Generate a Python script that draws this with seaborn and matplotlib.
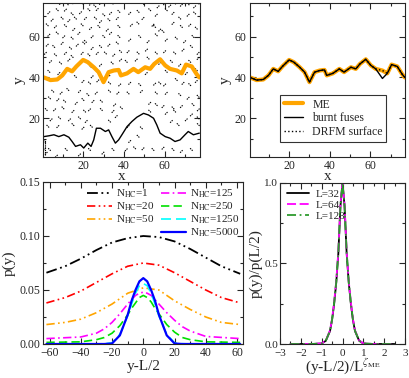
import numpy as np
import pandas as pd
import matplotlib
matplotlib.use('Agg')
import matplotlib.pyplot as plt
from matplotlib.ticker import MultipleLocator
from matplotlib.lines import Line2D
import seaborn as sns

# --- top panels: crack paths on the lattice ---
me_x = [0.8, 4, 7.3, 9.8, 12.2, 14.6, 16.7, 20, 22.3, 25.2, 27.6, 30, 32.5, 35, 37.4, 38.5,
        41.5, 44.7, 47, 50.4, 52.8, 54.8, 57.7, 60.2, 62.6, 65.9, 68.3, 70.4, 73.2, 75.6, 76.9]
me_y = [40, 38.7, 39, 41, 44.2, 43, 45.4, 48.6, 47.5, 45, 42.6, 37.7, 42.6, 43.4, 43.7, 41,
        42, 44.2, 42.6, 45, 44.2, 46.6, 48.9, 45.9, 44.2, 43.4, 42, 46.3, 45.4, 41.6, 40]
fuse_y = [40, 38.7, 39, 41, 44.2, 43, 45.4, 48.6, 47.5, 45, 42.6, 37.7, 42.6, 43.4, 43.7, 41,
          42, 44.2, 42.6, 45, 44.2, 46.6, 48.9, 45.9, 44.2, 39.5, 42, 46.3, 45.4, 41.6, 40]

crack_x = [0.8, 3.3, 5.7, 8.1, 10.6, 13, 14.6, 16.3, 18.7, 20.3, 22.3, 23.9, 25.2, 26.5, 28.5,
           30.9, 32.5, 34.1, 35.8, 37.4, 39, 41.5, 43.9, 46.3, 49.6, 52, 54.5, 56.1, 57.7,
           60.2, 62.6, 65, 67.5, 69.9, 71.5, 74, 76.9]
crack_y = [11, 11.4, 11.9, 11, 11.9, 10.7, 8.6, 6.2, 7, 5.4, 7.8, 6.2, 9.4, 15.1, 15.1,
           13.5, 14.3, 11, 7.8, 9.4, 11.9, 15.9, 18.4, 20.5, 22.4, 21.6, 20, 16.7, 12.7,
           11, 10.2, 8.6, 9.4, 11.9, 13.5, 11.9, 12.7]

# broken fuses (DRFM surface)
drfm_x = [9, 12.3, 15.5, 19.6, 23.7, 25.8, 28.6, 34.3, 3.3, 7.4, 11.4, 14.7, 18.8, 22.9, 27,
          30.2, 33.5, 37.6, 4.9, 9.8, 13.1, 16.3, 21.2, 26.1, 28.6, 32.7, 36.8, 2.5, 6.5,
          11.4, 15.5, 19.6, 23.7, 27.8, 31.9, 37.6, 3.3, 7.4, 10.6, 14.7, 18, 21.2, 24.5,
          30.2, 33.5, 37.6, 2.5, 5.7, 9.8, 13.9, 17.2, 20.4, 24.5, 28.6, 32.7, 36.8, 1.6,
          6.5, 11.4, 14.7, 19.6, 22.9, 27, 31, 35.1, 38.4, 4.1, 9, 13.1, 23.7, 28.6, 34.3,
          38.4, 3.3, 8.2, 16.3, 24.5, 32.7,
          50.2, 53.5, 56.8, 59.2, 62.5, 64.9, 68.2, 71.5, 74.7, 76.4, 42.9, 47, 49.4, 52.7,
          55.9, 60.8, 64.1, 67.4, 71.5, 74.7, 43.7, 46.9, 54.3, 55.1, 57.6, 59.2, 64.1, 68.2,
          72.3, 75.5, 42.9, 47.8, 51.9, 55.9, 60.8, 65.7, 69.8, 73.9, 42.1, 47, 51.1, 55.9,
          60, 64.9, 69, 73.1, 76.4, 41.2, 46.1, 51.9, 57.6, 63.3, 67.4, 72.3, 76.4, 44.5, 51,
          60.8, 70.6, 75.5,
          20, 23.2, 27.3, 33, 38, 5.2, 9.3, 12.6, 18.3, 22.4, 26.5, 33, 37.1, 3.6, 7.7, 11,
          16.7, 20, 24.9, 29, 35.5, 2, 6.1, 10.2, 15.1, 20.8, 23.2, 29, 34.7, 38.8, 4.4, 8.5,
          13.4, 18.3, 21.6, 33, 36.3, 2.8, 7.7, 15.1, 20, 24.1, 2, 3.6, 7, 11.8, 18.3, 23.2,
          29.8, 34.7, 1.2, 1.2,
          42.9, 47.8, 55.1, 57.6, 60, 65.7, 69, 72.3, 75.5, 42.1, 48.6, 55.9, 60.8, 67.4,
          71.5, 76.4, 52.7, 55.9, 59.2, 64.1, 68.2, 73.9, 76.5, 52.7, 60.8, 64.9, 73.1, 76.4,
          42.1, 48.6, 63.3, 66.6, 70.6, 76.5, 42.9, 47, 41.2, 45.3, 49.4, 54.3, 59.2, 64.1,
          68.2, 73.1]
drfm_y = [76.4, 76, 76.7, 76.4, 76, 75, 76.4, 76.4, 71.8, 73.1, 73.1, 71.1, 71.8, 73.1, 73.4,
          70.6, 71.5, 72.3, 68.2, 69, 67.9, 69, 69, 69, 67.4, 68.2, 69, 65.7, 64.9, 65.3,
          63.6, 65.7, 64.1, 64.9, 63.3, 64.9, 60.8, 61.7, 60, 59.2, 61.7, 57.6, 60, 60, 61.7,
          60, 55.9, 55.1, 56.8, 54.3, 55.9, 56.8, 54.3, 55.1, 55.9, 56.8, 51.9, 51, 51.9,
          50.2, 51.9, 51, 51.9, 51.9, 51, 52.7, 47.8, 47, 48.6, 45.3, 46.1, 47, 48.6, 42.9,
          42, 40.4, 40.4, 41.2,
          76.4, 76.7, 74.7, 76, 75.1, 76.4, 75.5, 76, 74.7, 76.4, 71.5, 72.3, 69, 73.1, 70.6,
          73.1, 71.5, 69, 70.6, 71.5, 65.7, 66.6, 65.7, 64.9, 63.3, 62.5, 66.6, 64.9, 65.7,
          64.1, 58.4, 60, 57.6, 60.8, 58.4, 59.2, 57.6, 60, 52.7, 51.9, 53.5, 51.9, 52.7,
          51.9, 53.5, 55.1, 51.9, 47.8, 48.6, 49.4, 47, 47.8, 46.1, 47.8, 49.4, 43.7, 42,
          42.9, 42, 43.7,
          38.1, 37.2, 38.4, 37.2, 36.4, 33.2, 32.4, 34, 33.2, 31.5, 32.4, 33.2, 32.4, 29.9,
          29.1, 28.3, 27.4, 29.1, 28.3, 28.3, 26.6, 24.2, 24.2, 25, 23.4, 23.4, 24.2, 24.2,
          23.4, 25, 19.3, 20.1, 19.3, 20.1, 18.5, 18.5, 20.9, 16, 16, 16.8, 15.2, 16, 2.9,
          4.6, 1.5, 4.6, 2.1, 4.6, 3, 4.6, 5, 8.5,
          37.2, 36.4, 36.8, 37.2, 36.4, 38.9, 37.2, 36.4, 38.1, 32.3, 33.2, 32.3, 32.3, 31.5,
          29.9, 30.7, 27.4, 26.6, 25.8, 25, 25.8, 26.6, 24.2, 23.4, 22.5, 23.4, 21.7, 20.1,
          16, 15.2, 18.5, 16.8, 19.3, 16.8, 8.7, 11.1, 4.6, 5.4, 5.1, 4.6, 5.4, 4.6, 3.8, 4.6]

# --- bottom left: p(y) for several N_HC ---
wide_x = [-62, -50, -40, -30, -20, -10, 0, 10, 20, 30, 40, 50, 62]
p_n1 = [0.066, 0.072, 0.079, 0.087, 0.094, 0.098, 0.100, 0.099, 0.095, 0.088, 0.080, 0.072, 0.065]
p_n20 = [0.038, 0.043, 0.049, 0.057, 0.065, 0.072, 0.075, 0.073, 0.066, 0.058, 0.050, 0.043, 0.038]
p_n50 = [0.018, 0.020, 0.023, 0.029, 0.037, 0.047, 0.052, 0.050, 0.040, 0.032, 0.025, 0.020, 0.018]

narrow_x = [-62, -40, -30, -25, -20, -15, -10, -7.5, -5, -2.5, 0, 2.5, 5, 7.5, 10, 15, 20, 25, 30, 40, 62]
p_n125 = [0.005, 0.0065, 0.010, 0.014, 0.020, 0.028, 0.037, 0.041, 0.045, 0.047, 0.048, 0.047,
          0.045, 0.041, 0.037, 0.029, 0.022, 0.016, 0.012, 0.007, 0.005]
p_n250 = [0.0015, 0.002, 0.004, 0.006, 0.010, 0.017, 0.027, 0.033, 0.038, 0.043, 0.045, 0.043,
          0.039, 0.033, 0.028, 0.018, 0.011, 0.006, 0.004, 0.002, 0.0015]
p_n1250 = [0, 0, 0, 0.0003, 0.001, 0.009, 0.026, 0.037, 0.047, 0.054, 0.056, 0.054, 0.047,
           0.037, 0.026, 0.009, 0.001, 0.0003, 0, 0, 0]
p_n5000 = [0, 0, 0, 0, 0.0005, 0.008, 0.027, 0.040, 0.050, 0.058, 0.061, 0.058, 0.050, 0.040,
           0.027, 0.008, 0.0005, 0, 0, 0, 0]

# --- bottom right: scaled profiles ---
s_x = [-2.5, -1.5, -1.0, -0.8, -0.6, -0.5, -0.4, -0.3, -0.2, -0.1, 0, 0.1, 0.2, 0.3, 0.4,
       0.5, 0.6, 0.8, 1.0, 1.5, 2.5]
s_l32 = [0, 0, 0.003, 0.02, 0.08, 0.15, 0.25, 0.38, 0.56, 0.85, 1.0, 0.85, 0.56, 0.38, 0.25,
         0.15, 0.08, 0.02, 0.003, 0, 0]
s_l64 = [0, 0, 0.004, 0.022, 0.085, 0.155, 0.26, 0.39, 0.57, 0.86, 1.0, 0.86, 0.57, 0.39, 0.26,
         0.155, 0.085, 0.022, 0.004, 0, 0]
s_l128 = [0, 0, 0.003, 0.021, 0.082, 0.152, 0.255, 0.385, 0.565, 0.855, 1.0, 0.855, 0.565,
          0.385, 0.255, 0.152, 0.082, 0.021, 0.003, 0, 0]

sns.set_style('ticks')
plt.rcParams['font.family'] = ['Liberation Serif', 'DejaVu Serif']
plt.rcParams['mathtext.fontset'] = 'stix'

W, H = 409, 378
fig = plt.figure(figsize=(W / 100, H / 100), dpi=100)


def box(l, t, r, b):
    return [l / W, 1 - b / H, (r - l) / W, (b - t) / H]


ax1 = fig.add_axes(box(43.3, 3, 199.5, 157))
ax2 = fig.add_axes(box(249.5, 3, 405, 157))
ax3 = fig.add_axes(box(43.3, 182, 243.3, 344))
ax4 = fig.add_axes(box(280, 182.5, 405, 344))

# dashes for broken fuses
seg_x, seg_y = [], []
for i, (x, y) in enumerate(zip(drfm_x, drfm_y)):
    d = 0.7 if i % 2 == 0 else -0.7
    seg_x += [x - 0.7, x + 0.7, np.nan]
    seg_y += [y - d, y + d, np.nan]
ax1.plot(seg_x, seg_y, color='black', lw=0.8, ls=(0, (1.2, 0.8)))
ax1.plot([1.2, 1.2], [2, 10], color='black', lw=0.8, ls=(0, (1.2, 0.8)))

sns.lineplot(x=me_x, y=me_y, ax=ax1, color='#FFA500', lw=3.0, sort=False)
sns.lineplot(x=crack_x, y=crack_y, ax=ax1, color='black', lw=1.0, sort=False)

sns.lineplot(x=me_x, y=me_y, ax=ax2, color='#FFA500', lw=3.0, sort=False, label='ME')
sns.lineplot(x=me_x, y=fuse_y, ax=ax2, color='black', lw=1.0, sort=False, label='burnt fuses')
sns.lineplot(x=me_x, y=me_y, ax=ax2, color='black', lw=1.0, ls=':', sort=False,
             label='DRFM surface')

for ax in (ax1, ax2):
    ax.set_xlim(0.5, 77)
    ax.set_ylim(1, 76.5)
    ax.xaxis.set_major_locator(MultipleLocator(20))
    ax.xaxis.set_minor_locator(MultipleLocator(10))
    ax.yaxis.set_major_locator(MultipleLocator(20))
    ax.yaxis.set_minor_locator(MultipleLocator(10))
    ax.set_xlabel('x', fontsize=11, labelpad=-1)
    ax.set_ylabel('y', fontsize=11, labelpad=2)

leg = ax2.legend(loc='lower right', bbox_to_anchor=(0.88, 0.1), fontsize=8.5, frameon=True,
                 fancybox=False, handlelength=1.6, borderpad=0.3, labelspacing=0.15,
                 handletextpad=0.8, borderaxespad=0)
leg.get_frame().set_edgecolor('black')
leg.get_frame().set_linewidth(0.8)

# bottom left
curves = [
    (wide_x, p_n1, 'black', (0, (6, 2, 1, 2, 1, 2)), 1.3, r'N$_{\rm HC}$=1'),
    (wide_x, p_n20, 'red', (0, (5, 2, 1, 2, 1, 2)), 1.2, r'N$_{\rm HC}$=20'),
    (wide_x, p_n50, '#FFA500', (0, (5, 2, 1, 2, 1, 2)), 1.2, r'N$_{\rm HC}$=50'),
    (narrow_x, p_n125, '#FF00FF', (0, (5, 2, 1, 2)), 1.2, r'N$_{\rm HC}$=125'),
    (narrow_x, p_n250, '#00E000', (0, (5, 2.5)), 1.2, r'N$_{\rm HC}$=250'),
    (narrow_x, p_n1250, '#00FFFF', (0, (6, 3)), 1.2, r'N$_{\rm HC}$=1250'),
    (narrow_x, p_n5000, '#0000FF', '-', 1.6, r'N$_{\rm HC}$=5000'),
]
handles = []
for x, y, c, ls, lw, lab in curves:
    sns.lineplot(x=x, y=y, ax=ax3, color=c, lw=lw, linestyle=ls)
    handles.append(Line2D([], [], color=c, lw=lw, ls=ls, label=lab))
blank = Line2D([], [], color='none', label=' ')
hs = handles[:3] + [blank] + handles[3:]
ax3.legend(handles=hs, ncol=2, loc='upper right', bbox_to_anchor=(1.01, 1.0), frameon=False,
           fontsize=8, handlelength=2.2, labelspacing=0.05, columnspacing=0.6,
           handletextpad=0.4, borderaxespad=0.1)
ax3.set_xlim(-64, 64)
ax3.set_ylim(0, 0.15)
ax3.xaxis.set_major_locator(MultipleLocator(20))
ax3.xaxis.set_minor_locator(MultipleLocator(10))
ax3.yaxis.set_major_locator(MultipleLocator(0.05))
ax3.yaxis.set_minor_locator(MultipleLocator(0.025))
ax3.yaxis.set_major_formatter(matplotlib.ticker.FormatStrFormatter('%.2f'))
ax3.set_xlabel('y-L/2', fontsize=11, labelpad=1)
ax3.set_ylabel('p(y)', fontsize=11, labelpad=3)

# bottom right
sns.lineplot(x=s_x, y=s_l32, ax=ax4, color='black', lw=1.3, label='L=32')
sns.lineplot(x=s_x, y=s_l64, ax=ax4, color='#FF00FF', lw=1.3, ls=(0, (5, 2)), label='L=64')
sns.lineplot(x=s_x, y=s_l128, ax=ax4, color='#2E9B2E', lw=1.3, ls=(0, (5, 2, 1, 2)),
             label='L=128')
ax4.legend(loc='upper left', frameon=False, fontsize=8, handlelength=2.0, labelspacing=0.1,
           handletextpad=0.6, borderaxespad=0.2)
ax4.set_xlim(-3, 3)
ax4.set_ylim(0, 1)
ax4.xaxis.set_major_locator(MultipleLocator(1))
ax4.xaxis.set_minor_locator(MultipleLocator(0.5))
ax4.yaxis.set_major_locator(MultipleLocator(0.5))
ax4.yaxis.set_minor_locator(MultipleLocator(0.25))
ax4.yaxis.set_major_formatter(matplotlib.ticker.FormatStrFormatter('%.1f'))
ax4.set_xlabel(r'(y-L/2)/L$^{\zeta_{\rm ME}}$', fontsize=11, labelpad=0)
ax4.set_ylabel('p(y)/p(L/2)', fontsize=11, labelpad=1)

for ax in (ax1, ax2, ax3, ax4):
    ax.tick_params(which='both', direction='in', top=True, right=True, labelsize=8.5, pad=2)
    ax.tick_params(which='major', length=4, width=0.8)
    ax.tick_params(which='minor', length=2, width=0.8)
    for s in ax.spines.values():
        s.set_linewidth(0.8)

# keep the bottom-right tick labels apart at the corner
ax4.tick_params(axis='x', labelsize=8, pad=3.5)
ax4.tick_params(axis='y', labelsize=8, pad=1.5)
ax4.xaxis.labelpad = -1

fig.savefig('out.png', dpi=100)
